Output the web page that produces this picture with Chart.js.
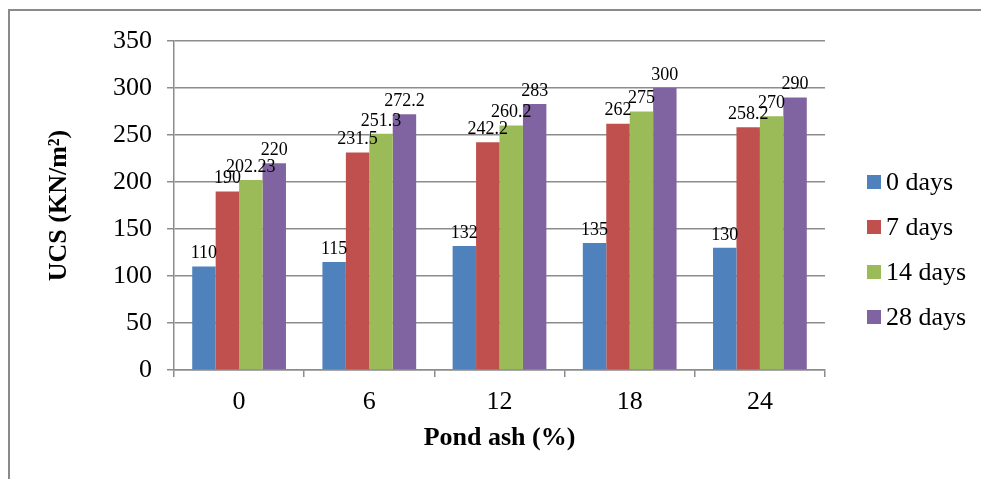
<!DOCTYPE html>
<html>
<head>
<meta charset="utf-8">
<script src="https://cdn.jsdelivr.net/npm/chart.js@4.4.1/dist/chart.umd.min.js"></script>
<style>
  html, body { margin: 0; padding: 0; background: #fff; }
  #wrap { position: relative; width: 981px; height: 479px; }
</style>
</head>
<body>
<div id="wrap"><canvas id="ucsChart" width="981" height="479"></canvas></div>
<script>
const categories = ["0", "6", "12", "18", "24"];
const seriesNames = ["0 days", "7 days", "14 days", "28 days"];
const days0 = [110, 115, 132, 135, 130];
const days7 = [190, 231.5, 242.2, 262, 258.2];
const days14 = [202.23, 251.3, 260.2, 275, 270];
const days28 = [220, 272.2, 283, 300, 290];
const yTicks = [0, 50, 100, 150, 200, 250, 300, 350];

const colors = ["#4F81BD", "#C0504D", "#9BBB59", "#8064A2"];
const serif = "'Liberation Serif', 'Times New Roman', serif";
const gridGray = "#8c8c8c";

// frame around the whole figure
const framePlugin = {
  id: "frame",
  beforeDraw(chart) {
    const ctx = chart.ctx;
    ctx.save();
    ctx.strokeStyle = "#8a8a8a";
    ctx.lineWidth = 2;
    ctx.strokeRect(9, 10, 1200, 1000);
    ctx.restore();
  }
};

// value labels above each bar
const valueLabels = {
  id: "valueLabels",
  afterDatasetsDraw(chart) {
    const ctx = chart.ctx;
    ctx.save();
    ctx.font = "18px " + serif;
    ctx.fillStyle = "#000";
    ctx.textAlign = "center";
    ctx.textBaseline = "bottom";
    chart.data.datasets.forEach((ds, i) => {
      chart.getDatasetMeta(i).data.forEach((bar, j) => {
        ctx.fillText(String(ds.data[j]), bar.x, bar.y - 4);
      });
    });
    ctx.restore();
  }
};

// legend on the right, squares + text
const sideLegend = {
  id: "sideLegend",
  afterDraw(chart) {
    const ctx = chart.ctx;
    ctx.save();
    ctx.font = "26px " + serif;
    ctx.textBaseline = "middle";
    seriesNames.forEach((name, i) => {
      const y = 182 + i * 45;
      ctx.fillStyle = colors[i];
      ctx.fillRect(867, y - 7, 14, 14);
      ctx.fillStyle = "#000";
      ctx.fillText(name, 886, y + 1);
    });
    ctx.restore();
  }
};

const seriesData = [days0, days7, days14, days28];

new Chart(document.getElementById("ucsChart").getContext("2d"), {
  type: "bar",
  data: {
    labels: categories,
    datasets: seriesNames.map((name, i) => ({
      label: name,
      data: seriesData[i],
      backgroundColor: colors[i],
      borderWidth: 0,
      barPercentage: 1,
      categoryPercentage: 0.72
    }))
  },
  options: {
    responsive: false,
    animation: false,
    layout: { padding: { left: 30, right: 156, top: 41, bottom: 0 } },
    plugins: {
      legend: { display: false },
      tooltip: { enabled: false }
    },
    scales: {
      x: {
        grid: {
          display: true,
          offset: true,
          drawOnChartArea: false,
          drawTicks: true,
          tickLength: 7,
          color: gridGray,
          lineWidth: 1.5
        },
        border: { color: gridGray, width: 1.5 },
        ticks: { color: "#000", font: { family: serif, size: 26 }, padding: 10 },
        title: {
          display: true,
          text: "Pond ash (%)",
          color: "#000",
          font: { family: serif, size: 26, weight: "bold" },
          padding: { top: 0, bottom: 25 }
        },
        afterFit(scale) { scale.height = 109; }
      },
      y: {
        min: 0,
        max: 350,
        afterBuildTicks(scale) { scale.ticks = yTicks.map(v => ({ value: v })); },
        grid: {
          color: gridGray,
          lineWidth: 1.5,
          tickLength: 7
        },
        border: { color: gridGray, width: 1.5 },
        ticks: { color: "#000", font: { family: serif, size: 26 }, padding: 15 },
        title: {
          display: true,
          text: "UCS (KN/m²)",
          color: "#000",
          font: { family: serif, size: 26, weight: "bold" },
          padding: { top: 14, bottom: 0 }
        },
        afterFit(scale) { scale.width = 144; }
      }
    }
  },
  plugins: [framePlugin, valueLabels, sideLegend]
});
</script>
</body>
</html>
